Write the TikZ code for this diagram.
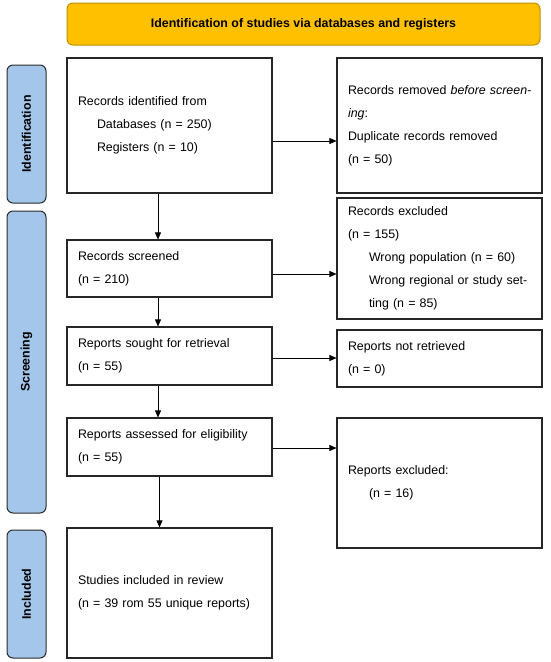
\documentclass[tikz,border=0pt]{standalone}
\usepackage{fontspec}
\setmainfont{Liberation Sans}
\usetikzlibrary{arrows.meta}
\definecolor{bannerfill}{HTML}{FFC000}
\definecolor{bannerline}{HTML}{C09100}
\definecolor{barfill}{HTML}{A3C6EA}
\definecolor{barline}{HTML}{2B2B2B}
\tikzset{
  box/.style={draw=black!85, line width=1.1pt, fill=white, inner xsep=11pt, inner ysep=0pt,
    text width=183pt, align=left, minimum width=205pt,
    font=\fontsize{12.4}{23}\selectfont},
  phasebar/.style={draw=barline, line width=1pt, fill=barfill, rounded corners=6pt, minimum width=39pt},
  phasetext/.style={rotate=90, font=\fontsize{12.4}{14}\selectfont\bfseries},
  arr/.style={line width=0.7pt, -{Triangle[length=7pt,width=6pt]}},
}
\begin{document}
\begin{tikzpicture}[x=1pt,y=-1pt]
\useasboundingbox (0,0) rectangle (550,662);
% banner
\node[draw=bannerline, line width=1pt, fill=bannerfill, rounded corners=6pt,
  minimum width=473pt, minimum height=42pt, font=\fontsize{12.4}{14}\selectfont\bfseries]
  (banner) at (303.5,24) {Identification of studies via databases and registers};
% phase bars
\node[phasebar, minimum height=138pt] (pid) at (26.5,134) {};
\node[phasetext] (tid) at (pid.center) {Identification};
\node[phasebar, minimum height=302pt] (pscr) at (26.5,362) {};
\node[phasetext] (tscr) at (pscr.center) {Screening};
\node[phasebar, minimum height=128pt] (pinc) at (26.5,594) {};
\node[phasetext] (tinc) at (pinc.center) {Included};
% left column
\node[box, minimum height=135pt] (b1) at (169.5,125.5)
  {Records identified from\\\hspace*{19pt}Databases (n = 250)\\\hspace*{19pt}Registers (n = 10)};
\node[box, minimum height=57pt] (b2) at (169.5,268.5)
  {Records screened\\(n = 210)};
\node[box, minimum height=58pt] (b3) at (169.5,356)
  {Reports sought for retrieval\\(n = 55)};
\node[box, minimum height=58pt] (b4) at (169.5,447)
  {Reports assessed for eligibility\\(n = 55)};
\node[box, minimum height=130pt] (b5) at (169.5,593)
  {Studies included in review\\(n = 39 rom 55 unique reports)};
% right column
\node[box, minimum height=135pt] (r1) at (439.5,125.5)
  {\makebox[183pt][s]{Records removed \textit{before screen-}}\\\textit{ing}:\\Duplicate records removed\\(n = 50)};
\node[box, minimum height=121pt] (r2) at (439.5,258.5)
  {Records excluded\\(n = 155)\\\hspace*{21pt}Wrong population (n = 60)\\\hspace*{21pt}\makebox[160pt][s]{Wrong regional or study set-}\\\hspace*{21pt}ting (n = 85)};
\node[box, minimum height=57pt] (r3) at (439.5,358.5)
  {Reports not retrieved\\(n = 0)};
\node[box, minimum height=130pt] (r4) at (439.5,483)
  {Reports excluded:\\\hspace*{21pt}(n = 16)};
% connectors
\coordinate (vx) at (158,0);
\coordinate (vx2) at (159.5,0);
\draw[arr] (b1.south -| vx) -- (b2.north -| vx);
\draw[arr] (b2.south -| vx) -- (b3.north -| vx);
\draw[arr] (b3.south -| vx) -- (b4.north -| vx);
\draw[arr] (b4.south -| vx2) -- (b5.north -| vx2);
\coordinate (h1) at ([yshift=-15.5pt]b1.east);
\coordinate (h2) at ([yshift=-5.5pt]b2.east);
\coordinate (h3) at ([yshift=-2pt]b3.east);
\coordinate (h4) at ([yshift=-1pt]b4.east);
\draw[arr] (h1) -- (h1 -| r1.west);
\draw[arr] (h2) -- (h2 -| r2.west);
\draw[arr] (h3) -- (h3 -| r3.west);
\draw[arr] (h4) -- (h4 -| r4.west);
\end{tikzpicture}
\end{document}
